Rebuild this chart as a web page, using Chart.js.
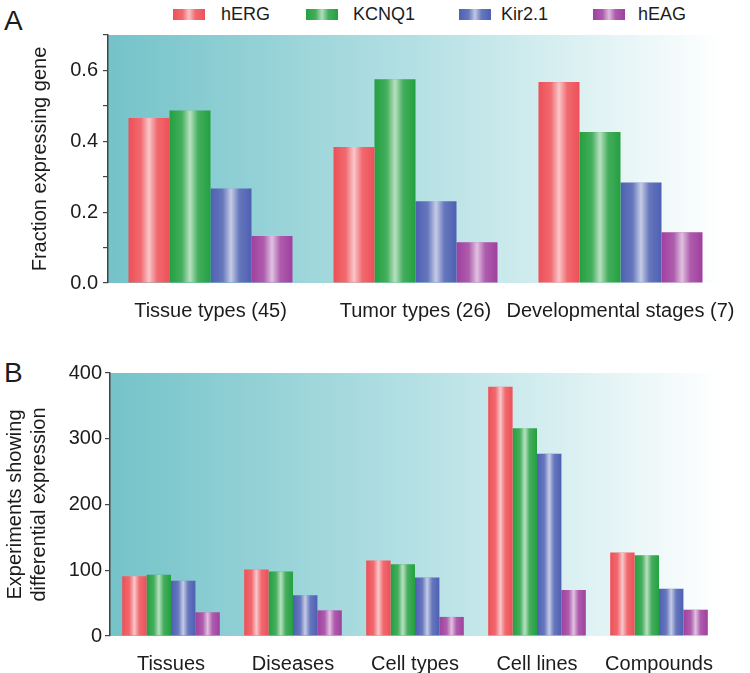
<!DOCTYPE html>
<html>
<head>
<meta charset="utf-8">
<script src="https://cdn.jsdelivr.net/npm/chart.js@4.4.1/dist/chart.umd.min.js"></script>
<style>
  body { margin: 0; background: #fff; font-family: "Liberation Sans", Arial, sans-serif; color: #1c1c1c; }
  #wrap { position: relative; width: 750px; height: 673px; overflow: hidden; }
  .panel { position: absolute; font-size: 28px; line-height: 28px; color: #1c1c1c; }
  .box { position: absolute; top: 9px; width: 32px; height: 11px; }
  .lbl { position: absolute; top: 3px; font-size: 18px; line-height: 22px; color: #1c1c1c; }
  canvas { position: absolute; left: 0; }
</style>
</head>
<body>
<div id="wrap">
  <div class="panel" style="left:4px;top:7px">A</div>
  <div id="legend"></div>
  <canvas id="chartA" width="750" height="325" style="top:0"></canvas>
  <div class="panel" style="left:4px;top:359px">B</div>
  <canvas id="chartB" width="750" height="343" style="top:330px"></canvas>
</div>
<script>
// Data
const genes = ['hERG', 'KCNQ1', 'Kir2.1', 'hEAG'];
const geneColors = ['#ee5057', '#23a040', '#4d60b2', '#a0409f'];

const contextsA = ['Tissue types (45)', 'Tumor types (26)', 'Developmental stages (7)'];
const hergA = [0.466, 0.384, 0.567];
const kcnq1A = [0.487, 0.575, 0.426];
const kirA = [0.267, 0.231, 0.284];
const heagA = [0.133, 0.115, 0.143];

const contextsB = ['Tissues', 'Diseases', 'Cell types', 'Cell lines', 'Compounds'];
const hergB = [91, 101, 115, 379, 127];
const kcnq1B = [93, 98, 109, 316, 123];
const kirB = [84, 62, 89, 277, 72];
const heagB = [36, 39, 29, 70, 40];

const fontFamily = '"Liberation Sans", Arial, sans-serif';
const textColor = '#1c1c1c';

// Legend (html)
const legendBoxLeft = [173, 306, 459, 593];
const legendTextLeft = [221, 353, 501, 638];
const legend = document.getElementById('legend');
genes.forEach((g, i) => {
  const box = document.createElement('div');
  box.className = 'box';
  box.style.left = legendBoxLeft[i] + 'px';
  box.style.background = `linear-gradient(to right, rgba(255,255,255,0) 0%, rgba(255,255,255,0.15) 30%, rgba(255,255,255,0.65) 50%, rgba(255,255,255,0.15) 70%, rgba(255,255,255,0) 100%), ${geneColors[i]}`;
  legend.appendChild(box);
  const t = document.createElement('div');
  t.className = 'lbl';
  t.style.left = legendTextLeft[i] + 'px';
  t.textContent = g;
  legend.appendChild(t);
});

// Teal-to-white background behind the bars
const backgroundPlugin = {
  id: 'tealBackground',
  beforeDraw(chart) {
    const { ctx, chartArea: a } = chart;
    const g = ctx.createLinearGradient(a.left, 0, a.right, 0);
    g.addColorStop(0, 'rgb(116,195,201)');
    g.addColorStop(0.5, 'rgb(180,224,228)');
    g.addColorStop(1, 'rgb(255,255,255)');
    ctx.save();
    ctx.fillStyle = g;
    ctx.fillRect(a.left, a.top, a.right - a.left, a.bottom - a.top);
    ctx.restore();
  }
};

// Cylinder-like highlight on each bar
const shinePlugin = {
  id: 'barShine',
  afterDatasetsDraw(chart) {
    const ctx = chart.ctx;
    chart.data.datasets.forEach((ds, di) => {
      chart.getDatasetMeta(di).data.forEach(bar => {
        const left = bar.x - bar.width / 2;
        const g = ctx.createLinearGradient(left, 0, left + bar.width, 0);
        g.addColorStop(0, 'rgba(255,255,255,0)');
        g.addColorStop(0.3, 'rgba(255,255,255,0.15)');
        g.addColorStop(0.5, 'rgba(255,255,255,0.68)');
        g.addColorStop(0.7, 'rgba(255,255,255,0.15)');
        g.addColorStop(1, 'rgba(255,255,255,0)');
        ctx.save();
        ctx.fillStyle = g;
        ctx.fillRect(left, bar.y, bar.width, bar.base - bar.y);
        ctx.restore();
      });
    });
  }
};

function makeDatasets(series) {
  return series.map((data, i) => ({
    label: genes[i],
    data,
    backgroundColor: geneColors[i],
    borderWidth: 0,
    categoryPercentage: 0.8,
    barPercentage: 1.0
  }));
}

function makeChart(id, labels, series, opts) {
  return new Chart(document.getElementById(id), {
    type: 'bar',
    data: { labels, datasets: makeDatasets(series) },
    options: {
      responsive: false,
      animation: false,
      layout: { padding: { left: 0, top: opts.top, right: opts.right, bottom: 0 } },
      plugins: { legend: { display: false }, tooltip: { enabled: false } },
      scales: {
        x: {
          grid: { display: false },
          border: { display: false },
          ticks: { color: textColor, font: { family: fontFamily, size: 20 }, padding: 8, maxRotation: 0, autoSkip: false },
          afterFit: s => { s.height = opts.xHeight; }
        },
        y: {
          min: 0,
          max: opts.max,
          border: { display: true, color: '#444', width: 1.5 },
          grid: { drawOnChartArea: false, color: '#444', tickLength: 5, lineWidth: 1.2 },
          ticks: {
            stepSize: opts.step,
            color: textColor,
            padding: opts.tickPad,
            font: { family: fontFamily, size: 20 },
            callback: opts.tickLabel
          },
          title: {
            display: true,
            text: opts.title,
            color: textColor,
            font: { family: fontFamily, size: 20 },
            padding: { top: opts.titlePad, bottom: 0 }
          },
          afterFit: s => { s.width = opts.left; }
        }
      }
    },
    plugins: [backgroundPlugin, shinePlugin]
  });
}

makeChart('chartA', contextsA, [hergA, kcnq1A, kirA, heagA], {
  top: 35, right: 27, left: 108, xHeight: 42, max: 0.7, step: 0.1, tickPad: 5,
  title: 'Fraction expressing gene', titlePad: 28,
  tickLabel: v => (Math.round(v * 10) % 2 === 0 && v < 0.65) ? v.toFixed(1) : ''
});

makeChart('chartB', contextsB, [hergB, kcnq1B, kirB, heagB], {
  top: 43, right: 30, left: 110, xHeight: 37, max: 400, step: 100, tickPad: 3,
  title: ['Experiments showing', 'differential expression'], titlePad: 3,
  tickLabel: v => v
});
</script>
</body>
</html>
